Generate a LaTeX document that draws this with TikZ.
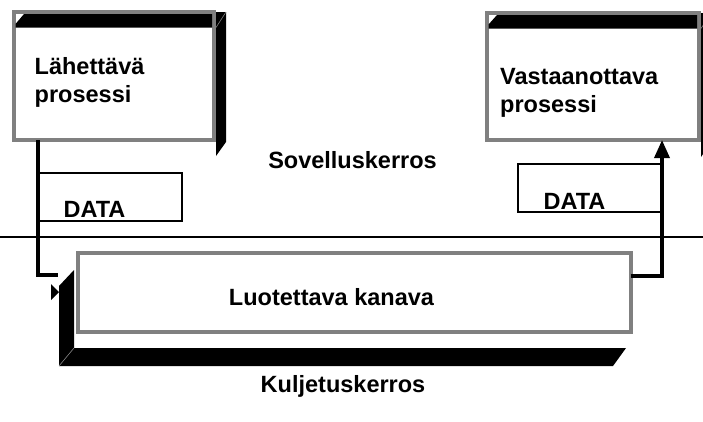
\documentclass[tikz,border=0pt]{standalone}
\usepackage{fontspec}
\setmainfont{Liberation Sans}
\usetikzlibrary{arrows.meta}
\definecolor{framegray}{RGB}{128,128,128}
\tikzset{
  procbox/.style={draw=framegray, line width=4pt, inner sep=0pt, outer sep=0pt},
  databox/.style={draw, line width=1.5pt, inner sep=0pt, outer sep=0pt},
  lbl/.style={font=\fontsize{23.5}{28}\selectfont\bfseries, inner sep=0pt},
  wire/.style={line width=3.5pt},
}

\begin{document}
\begin{tikzpicture}[x=1pt,y=-1pt]
    \useasboundingbox (0,0) rectangle (703,421);
    \clip (0,0) rectangle (703,421);
    \draw[line width=1.5pt] (0,237)--(703,237);
    % sending process
    \node[procbox, minimum width=200.5, minimum height=128] (send) at (113.75,76) {};
    \fill (15.5,27.5)--(15.5,24)--(24,14)--(212,14)--(212,27.5)--cycle;
    \fill (216,12)--(226,12)--(226,142)--(216,156)--cycle;
    \draw[framegray, line width=0.6pt] (216,27.5)--(226,12);
    \node[lbl, anchor=north west, align=left] (sendtxt) at (34.5,57) {Lähettävä\\prosessi};
    % receiving process
    \node[procbox, minimum width=212.5, minimum height=127] (recv) at (592.75,76.5) {};
    \fill (488.5,28.5)--(488.5,24.5)--(497,15)--(697,15)--(697,28.5)--cycle;
    \fill (701,13)--(711,13)--(711,142)--(701,157)--cycle;
    \draw[framegray, line width=0.6pt] (701,28.5)--(711,13);
    \node[lbl, anchor=north west, align=left] (recvtxt) at (500,68) {Vastaanottava\\prosessi};
    % channel
    \node[procbox, minimum width=552.5, minimum height=79] (chan) at (354.25,292.5) {};
    \fill (59,366)--(59,286)--(74,270)--(74,348)--cycle;
    \fill (59,366)--(74,348)--(626,348)--(613,366)--cycle;
    \draw[framegray, line width=0.6pt] (59,366)--(74,348);
    \node[lbl, anchor=base] (chantxt) at (331.5,305) {Luotettava kanava};
    % data
    \node[databox, minimum width=144, minimum height=48] (dataL) at (110,197) {};
    \node[databox, minimum width=143, minimum height=48] (dataR) at (589.5,188) {};
    \node[lbl, anchor=base] (dataLtxt) at (94.5,217) {DATA};
    \node[lbl, anchor=base] (dataRtxt) at (574.5,209) {DATA};
    % wires
    \coordinate (lin) at (58,275);
    \coordinate (rout) at (662,276);
    \draw[wire] (dataL.west |- send.south)|-(lin);
    \fill (51,284)--(59,292)--(51,300)--cycle;
    \draw[wire, -{Triangle[width=15pt,length=18pt]}] (chan.east |- rout)--(rout)--(rout |- recv.south);
    % layers
    \node[lbl, anchor=base] (app) at (352.5,168) {Sovelluskerros};
    \node[lbl, anchor=base] (trans) at (343,392) {Kuljetuskerros};
\end{tikzpicture}
\end{document}
